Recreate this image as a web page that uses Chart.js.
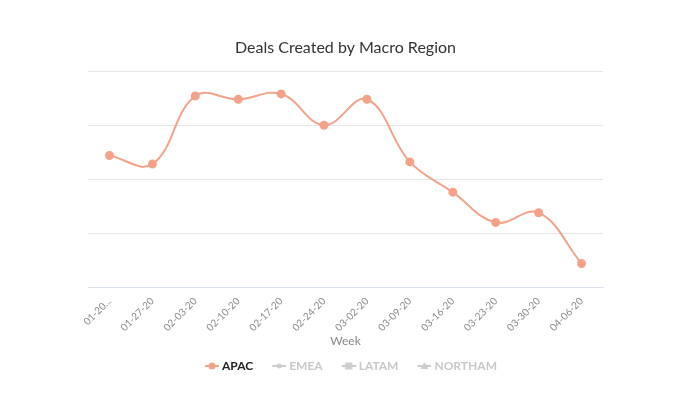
<!DOCTYPE html>
<html><head><meta charset="utf-8">
<script src="https://cdn.jsdelivr.net/npm/chart.js@4/dist/chart.umd.min.js"></script>
<style>html,body{margin:0;padding:0;background:#fff}#wrap{width:700px;height:397px}</style>
</head><body><div id="wrap"><canvas id="c" width="700" height="397"></canvas></div>
<script>
const weeks = ["01-20-20","01-27-20","02-03-20","02-10-20","02-17-20","02-24-20","03-02-20","03-09-20","03-16-20","03-23-20","03-30-20","04-06-20"];
const apac = [122,114,177,174,179,150,174,116,88,60,69,22];
const emea = [];
const latam = [];
const northam = [];
const seriesNames = ["APAC","EMEA","LATAM","NORTHAM"];

function legendIcon(shape, color){
  const c = document.createElement('canvas');
  c.width = 28; c.height = 10;
  const g = c.getContext('2d');
  g.strokeStyle = color; g.fillStyle = color; g.lineWidth = 2;
  g.beginPath(); g.moveTo(14,5); g.lineTo(28,5); g.stroke();
  g.beginPath();
  const cx = 21;
  if(shape==='circle'){ g.arc(cx,5,3.5,0,Math.PI*2); g.fill(); }
  else if(shape==='smallcircle'){ g.arc(cx,5,2.5,0,Math.PI*2); g.fill(); }
  else if(shape==='rect'){ g.fillRect(cx-3.5,1.5,7,7); }
  else if(shape==='tri'){ g.moveTo(cx,1); g.lineTo(cx+4,8); g.lineTo(cx-4,8); g.closePath(); g.fill(); }
  return c;
}
const icons = [legendIcon('circle','#f5a28a'),legendIcon('smallcircle','#cccccc'),legendIcon('rect','#cccccc'),legendIcon('tri','#cccccc')];

new Chart(document.getElementById('c'), {
  type: 'line',
  data: {
    labels: weeks,
    datasets: [
      {label: seriesNames[0], data: apac, borderColor:'#f5a28a', backgroundColor:'#f5a28a', borderWidth:2, pointRadius:3.5, pointHoverRadius:3.5, tension:0.4},
      {label: seriesNames[1], data: emea, hidden:true, borderColor:'#cccccc', backgroundColor:'#cccccc'},
      {label: seriesNames[2], data: latam, hidden:true, borderColor:'#cccccc', backgroundColor:'#cccccc'},
      {label: seriesNames[3], data: northam, hidden:true, borderColor:'#cccccc', backgroundColor:'#cccccc'}
    ]
  },
  options: {
    responsive:false, animation:false,
    layout:{padding:{left:88, right:97, top:12, bottom:15}},
    plugins:{
      title:{display:true, text:'Deals Created by Macro Region', color:'#333', font:{family:'Lato', size:16, weight:'normal'}, padding:{top:26, bottom:14}},
      legend:{position:'bottom', labels:{
        usePointStyle:true, pointStyleWidth:22, boxHeight:10, padding:8,
        font:{family:'Lato', size:12, weight:'bold'},
        generateLabels:(chart)=>chart.data.datasets.map((d,i)=>({
          text:d.label, pointStyle:icons[i], hidden:false,
          fontColor: i===0 ? '#222' : '#c8c8c8',
          fillStyle:d.borderColor, strokeStyle:d.borderColor, lineWidth:0, datasetIndex:i
        }))
      }},
      tooltip:{enabled:false}
    },
    scales:{
      x:{offset:true, grid:{display:false}, border:{display:true, color:'#dde3ec', width:1},
        title:{display:true, text:'Week', color:'#888', font:{family:'Lato', size:12}, padding:{top:0}},
        ticks:{color:'#888', font:{family:'Lato', size:10}, minRotation:45, maxRotation:45, padding:0,
          callback:function(v,i){ const l=this.getLabelForValue(v); return i===0 ? l.slice(0,5)+'...' : l; }}
      },
      y:{min:0, max:200, ticks:{display:false, stepSize:50}, border:{display:false},
        grid:{color:'#e6e6e6', drawTicks:false}}
    }
  }
});
</script></body></html>
